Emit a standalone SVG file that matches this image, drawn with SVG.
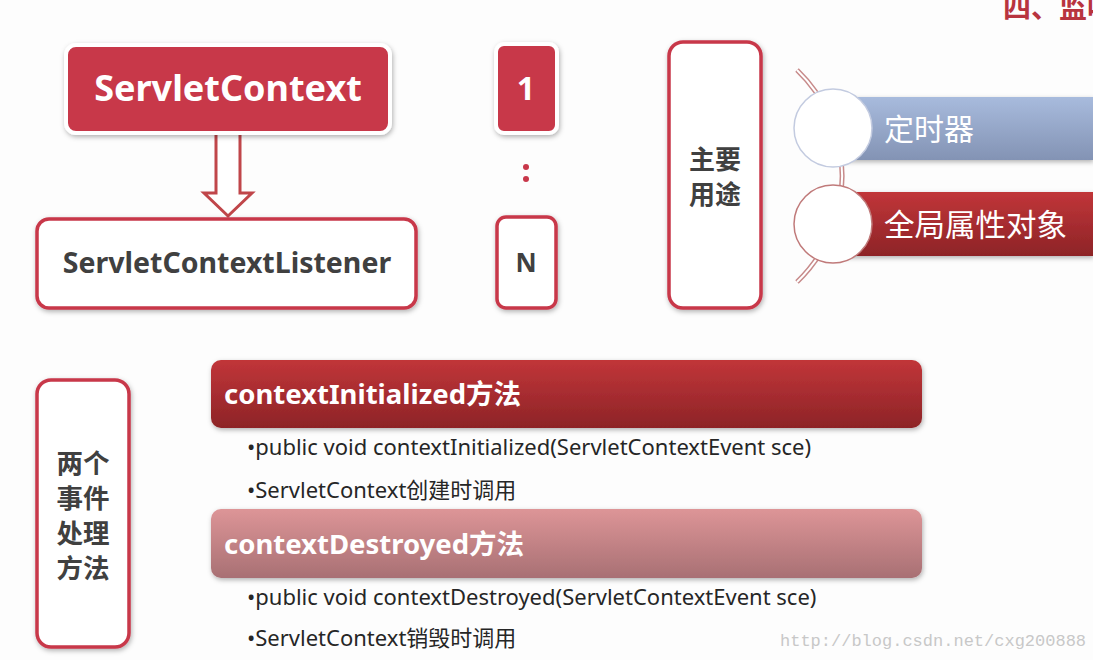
<svg xmlns="http://www.w3.org/2000/svg" width="1093" height="660" viewBox="0 0 1093 660">
<defs>
<style>
text{font-family:"Noto Sans","Noto Sans CJK SC",sans-serif}
text.mono{font-family:"Liberation Mono",monospace}
.b{font-weight:bold}
.wt{fill:#ffffff}
.dk{fill:#404040}
.redbox{fill:#c8374a;stroke:#ffffff;stroke-width:4}
.outbox{fill:#ffffff;stroke:#c8374a;stroke-width:3.5}
.body{font-size:22px;fill:#262626}
</style>
<filter id="sh" x="-10%" y="-10%" width="125%" height="130%"><feDropShadow dx="1" dy="2" stdDeviation="2.5" flood-color="#000" flood-opacity="0.3"/></filter>
<linearGradient id="gRed" x1="0" y1="0" x2="0" y2="1"><stop offset="0" stop-color="#c13539"/><stop offset="1" stop-color="#8d2427"/></linearGradient>
<linearGradient id="gPink" x1="0" y1="0" x2="0" y2="1"><stop offset="0" stop-color="#dd9597"/><stop offset="1" stop-color="#a87074"/></linearGradient>
<linearGradient id="gBlue" x1="0" y1="0" x2="0" y2="1"><stop offset="0" stop-color="#a8bbdd"/><stop offset="1" stop-color="#8393b4"/></linearGradient>
</defs>
<rect width="1093" height="660" fill="#fdfdfd"/>
<text x="1003" y="18" class="b" font-size="28" fill="#b8343f">四、监听</text>

<g id="connectors">
<path d="M216,133 V193 H204 L228,216 L252,193 H240 V133 Z" fill="#ffffff" stroke="#c0464a" stroke-width="3" stroke-linejoin="miter"/>
<circle cx="526" cy="167" r="3" fill="#c8374a"/>
<circle cx="526" cy="179" r="3" fill="#c8374a"/>
</g>

<g id="servletContext">
<rect x="66" y="45" width="324" height="88" rx="10" class="redbox" filter="url(#sh)"/>
<text x="228" y="101" text-anchor="middle" class="b wt" font-size="36">ServletContext</text>
</g>
<g id="listener">
<rect x="37" y="219" width="379" height="89" rx="12" class="outbox" filter="url(#sh)"/>
<text x="227" y="273" text-anchor="middle" class="b dk" font-size="28.5">ServletContextListener</text>
</g>
<g id="one">
<rect x="496" y="44" width="61" height="89" rx="8" class="redbox" filter="url(#sh)"/>
<text x="526" y="100" text-anchor="middle" class="b wt" font-size="32">1</text>
</g>
<g id="n">
<rect x="497" y="217" width="59" height="91" rx="9" class="outbox" filter="url(#sh)"/>
<text x="526" y="272" text-anchor="middle" class="b dk" font-size="26">N</text>
</g>
<g id="uses">
<rect x="669" y="42" width="92" height="266" rx="14" class="outbox" filter="url(#sh)"/>
<text x="715" y="169" text-anchor="middle" class="b dk" font-size="26">主要</text>
<text x="715" y="204" text-anchor="middle" class="b dk" font-size="26">用途</text>
</g>

<g id="arc">
<path d="M797,70 A147,147 0 0 1 797,282" fill="none" stroke="#c78a8a" stroke-width="5"/>
<path d="M797,70 A147,147 0 0 1 797,282" fill="none" stroke="#ffffff" stroke-width="2"/>
</g>
<g id="timer">
<rect x="833" y="97" width="260" height="63" fill="url(#gBlue)" filter="url(#sh)"/>
<circle cx="833" cy="128" r="39" fill="#ffffff" stroke="#c3cbe0" stroke-width="1.5"/>
<text x="884" y="140" class="wt" font-size="30">定时器</text>
</g>
<g id="global">
<rect x="833" y="192" width="260" height="64" fill="url(#gRed)" filter="url(#sh)"/>
<circle cx="833" cy="224" r="39" fill="#ffffff" stroke="#c07a7a" stroke-width="1.5"/>
<text x="884" y="236" class="wt" font-size="30.5">全局属性对象</text>
</g>

<g id="twoMethods">
<rect x="37" y="380" width="92" height="267" rx="14" class="outbox" filter="url(#sh)"/>
<text x="83" y="473" text-anchor="middle" class="b dk" font-size="26.5">两个</text>
<text x="83" y="508" text-anchor="middle" class="b dk" font-size="26.5">事件</text>
<text x="83" y="543" text-anchor="middle" class="b dk" font-size="26.5">处理</text>
<text x="83" y="578" text-anchor="middle" class="b dk" font-size="26.5">方法</text>
</g>
<g id="initialized">
<rect x="211" y="360" width="711" height="68" rx="10" fill="url(#gRed)" filter="url(#sh)"/>
<text x="224" y="404" class="b wt" font-size="27.5">contextInitialized方法</text>
<text x="247" y="455" class="body">•public void contextInitialized(ServletContextEvent sce)</text>
<text x="247" y="498" class="body">•ServletContext创建时调用</text>
</g>
<g id="destroyed">
<rect x="211" y="509" width="711" height="69" rx="10" fill="url(#gPink)" filter="url(#sh)"/>
<text x="224" y="554" class="b wt" font-size="27.5">contextDestroyed方法</text>
<text x="247" y="605" class="body">•public void contextDestroyed(ServletContextEvent sce)</text>
<text x="247" y="646" class="body">•ServletContext销毁时调用</text>
</g>
<text x="780" y="646" class="mono" font-size="17" fill="#c8c8c8">http://blog.csdn.net/cxg200888</text>
</svg>
